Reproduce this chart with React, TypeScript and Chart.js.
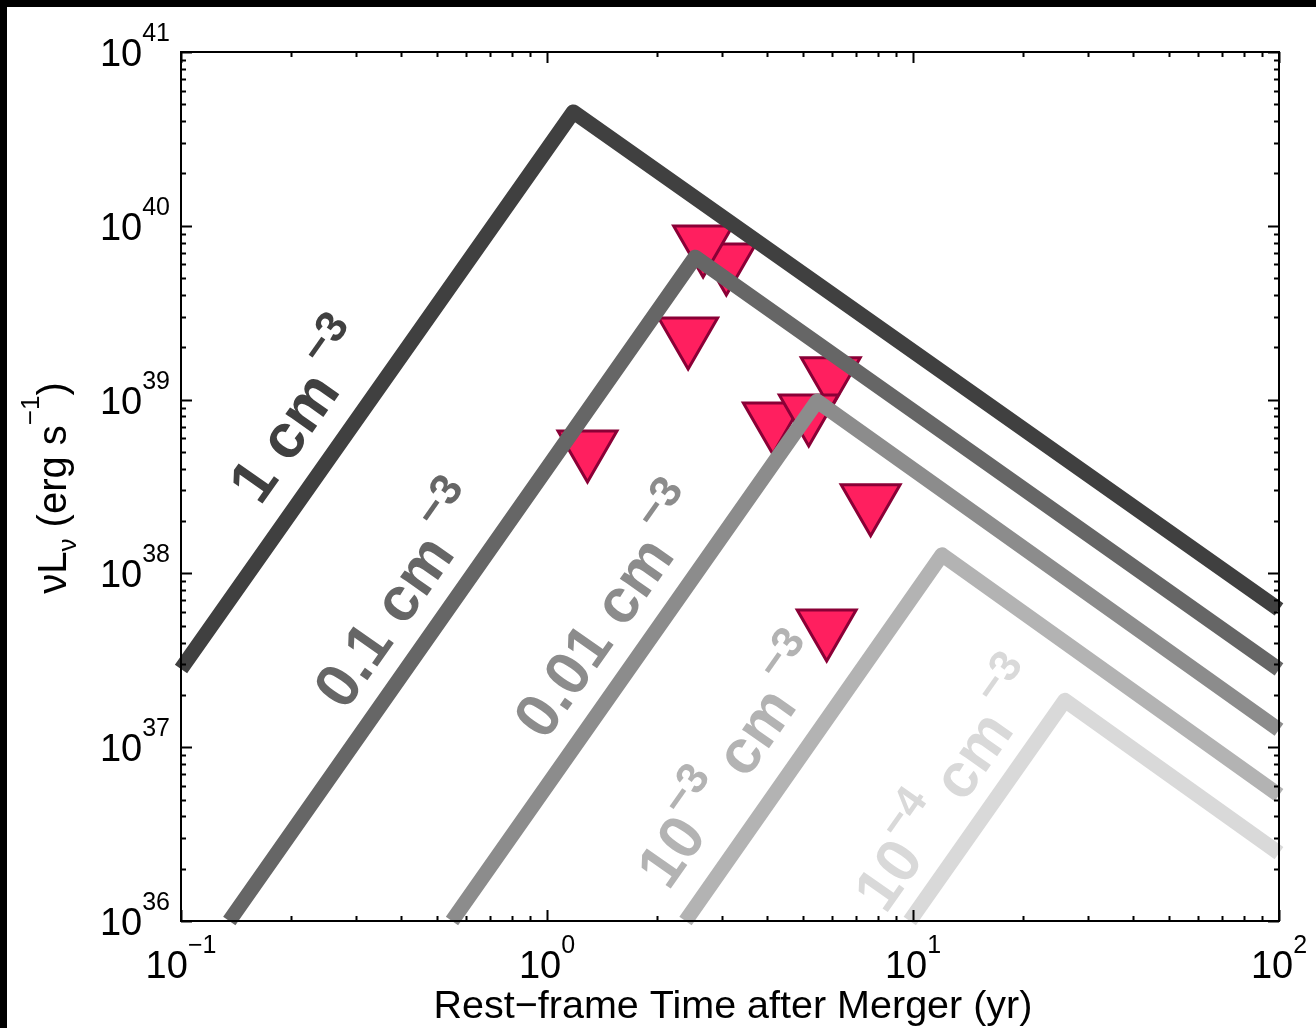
import React, { useEffect, useRef } from "react";
import { Chart, registerables } from "chart.js";

Chart.register(...registerables);

// ---------- data ----------
const DENSITY_NAMES = ["1 cm^-3", "0.1 cm^-3", "0.01 cm^-3", "10^-3 cm^-3", "10^-4 cm^-3"];

const T_N1 = [0.1, 1.18, 100];
const L_N1 = [2.82e37, 4.52e40, 6.2e37];
const T_N01 = [0.1355, 2.54, 100];
const L_N01 = [1e36, 6.6e39, 2.8e37];
const T_N001 = [0.55, 5.47, 100];
const L_N001 = [1e36, 9.8e38, 1.26e37];
const T_N1E3 = [2.39, 12.0, 100];
const L_N1E3 = [1e36, 1.28e38, 5.3e36];
const T_N1E4 = [9.8, 26, 100];
const L_N1E4 = [1e36, 1.86e37, 2.46e36];

// upper limits (drawn in this order)
const LIMIT_T = [3.09, 2.67, 2.43, 1.29, 5.96, 4.14, 5.19, 7.66, 5.81];
const LIMIT_L = [6.27e39, 7.95e39, 2.35e39, 5.27e38, 1.39e39, 7.63e38, 8.49e38, 2.58e38, 4.92e37];

// label anchors (data coordinates, centre of the rotated label)
const LABEL_T = [0.211, 0.395, 1.48, 3.2, 12.55];
const LABEL_L = [8.5e38, 7.41e37, 6.0e37, 8.2e36, 6.0e36];

const X_TICK_EXP = [-1, 0, 1, 2];
const Y_TICK_EXP = [36, 37, 38, 39, 40, 41];

const X_TITLE = "Rest\u2212frame Time after Merger (yr)";

// ---------- styles ----------
const LINE_COLORS = ["#404040", "#666666", "#8c8c8c", "#b3b3b3", "#d9d9d9"];
const FONT = '"Liberation Sans", Arial, Helvetica, sans-serif';

type Part = { t: string; sup?: boolean; sub?: boolean };

function parseLabel(s: string): Part[] {
  const parts: Part[] = [];
  const re = /\^(-?\d+)/g;
  let last = 0;
  let m: RegExpExecArray | null;
  while ((m = re.exec(s))) {
    if (m.index > last) parts.push({ t: s.slice(last, m.index) });
    parts.push({ t: m[1].replace("-", "\u2212"), sup: true });
    last = m.index + m[0].length;
  }
  if (last < s.length) parts.push({ t: s.slice(last) });
  return parts;
}

function needsGap(parts: Part[], i: number) {
  const p = parts[i];
  if (!p.sup || i === 0) return false;
  const prev = parts[i - 1];
  if (prev.sup || prev.sub) return false;
  return /[A-Za-z]$/.test(prev.t);
}

function drawParts(
  ctx: CanvasRenderingContext2D,
  parts: Part[],
  x0: number,
  baseY: number,
  size: number,
  subSize: number,
  supRaise: number,
  subDrop: number,
  weight: string,
  gap: number
) {
  let x = x0;
  parts.forEach((p, i) => {
    const small = p.sup || p.sub;
    ctx.font = `${weight} ${small ? subSize : size}px ${FONT}`;
    const y = p.sup ? baseY - supRaise : p.sub ? baseY + subDrop : baseY;
    if (needsGap(parts, i)) x += gap;
    ctx.fillText(p.t, x, y);
    x += ctx.measureText(p.t).width;
  });
  return x;
}

function measureParts(ctx: CanvasRenderingContext2D, parts: Part[], size: number, subSize: number, weight: string, gap: number) {
  let w = 0;
  parts.forEach((p, i) => {
    const small = p.sup || p.sub;
    ctx.font = `${weight} ${small ? subSize : size}px ${FONT}`;
    if (needsGap(parts, i)) w += gap;
    w += ctx.measureText(p.t).width;
  });
  return w;
}

const SERIES_T = [T_N1, T_N01, T_N001, T_N1E3, T_N1E4];
const SERIES_L = [L_N1, L_N01, L_N001, L_N1E3, L_N1E4];

const decorPlugin = {
  id: "decor",
  beforeDraw(chart: any) {
    const ctx = chart.ctx as CanvasRenderingContext2D;
    ctx.save();
    ctx.fillStyle = "#ffffff";
    ctx.fillRect(0, 0, chart.width, chart.height);
    ctx.fillStyle = "#000000";
    ctx.fillRect(0, 0, chart.width, 7);
    ctx.fillRect(0, 0, 7, chart.height);
    ctx.restore();
  },
  beforeDatasetsDraw(chart: any) {
    const ctx = chart.ctx as CanvasRenderingContext2D;
    const xs = chart.scales.x;
    const ys = chart.scales.y;
    ctx.save();
    ctx.textBaseline = "alphabetic";
    ctx.textAlign = "left";
    DENSITY_NAMES.forEach((name, i) => {
      const t = SERIES_T[i];
      const l = SERIES_L[i];
      const ax = xs.getPixelForValue(t[0]);
      const ay = ys.getPixelForValue(l[0]);
      const bx = xs.getPixelForValue(t[1]);
      const by = ys.getPixelForValue(l[1]);
      const ang = Math.atan2(by - ay, bx - ax);
      const cx = xs.getPixelForValue(LABEL_T[i]);
      const cy = ys.getPixelForValue(LABEL_L[i]);
      const parts = parseLabel(name);
      const size = 62;
      const sub = 44;
      const gap = 9;
      ctx.save();
      ctx.translate(cx, cy);
      ctx.rotate(ang);
      ctx.fillStyle = LINE_COLORS[i];
      const w = measureParts(ctx, parts, size, sub, "bold", gap);
      drawParts(ctx, parts, -w / 2, size * 0.36, size, sub, size * 0.5, 0, "bold", gap);
      ctx.restore();
    });
    ctx.restore();
  },
  afterDatasetsDraw(chart: any) {
    const ctx = chart.ctx as CanvasRenderingContext2D;
    const xs = chart.scales.x;
    const ys = chart.scales.y;
    const { left, right, top, bottom } = chart.chartArea;
    ctx.save();
    ctx.strokeStyle = "#000000";
    ctx.lineWidth = 2;
    ctx.lineCap = "butt";
    const majorLen = 11;
    const minorLen = 5;
    ctx.beginPath();
    const xMax = Math.pow(10, X_TICK_EXP[X_TICK_EXP.length - 1]) * 1.0001;
    for (let e = X_TICK_EXP[0]; e <= X_TICK_EXP[X_TICK_EXP.length - 1]; e++) {
      for (let k = 1; k <= 9; k++) {
        const v = k * Math.pow(10, e);
        if (v > xMax) continue;
        const px = Math.round(xs.getPixelForValue(v)) + 0.5;
        const len = k === 1 ? majorLen : minorLen;
        ctx.moveTo(px, bottom);
        ctx.lineTo(px, bottom - len);
        ctx.moveTo(px, top);
        ctx.lineTo(px, top + len);
      }
    }
    const yMax = Math.pow(10, Y_TICK_EXP[Y_TICK_EXP.length - 1]) * 1.0001;
    for (let e = Y_TICK_EXP[0]; e <= Y_TICK_EXP[Y_TICK_EXP.length - 1]; e++) {
      for (let k = 1; k <= 9; k++) {
        const v = k * Math.pow(10, e);
        if (v > yMax) continue;
        const py = Math.round(ys.getPixelForValue(v)) + 0.5;
        const len = k === 1 ? majorLen : minorLen;
        ctx.moveTo(left, py);
        ctx.lineTo(left + len, py);
        ctx.moveTo(right, py);
        ctx.lineTo(right - len, py);
      }
    }
    ctx.stroke();
    ctx.lineWidth = 2;
    ctx.strokeRect(left, top, right - left, bottom - top);

    // tick labels
    ctx.fillStyle = "#000000";
    ctx.textBaseline = "alphabetic";
    ctx.textAlign = "left";
    const mainSize = 38;
    const expSize = 25;
    X_TICK_EXP.forEach((e) => {
      const parts: Part[] = [{ t: "10" }, { t: String(e).replace("-", "\u2212"), sup: true }];
      const w = measureParts(ctx, parts, mainSize, expSize, "normal", 0);
      const px = xs.getPixelForValue(Math.pow(10, e));
      drawParts(ctx, parts, px - w / 2, bottom + 57, mainSize, expSize, 25, 0, "normal", 0);
    });
    Y_TICK_EXP.forEach((e) => {
      const parts: Part[] = [{ t: "10" }, { t: String(e).replace("-", "\u2212"), sup: true }];
      const w = measureParts(ctx, parts, mainSize, expSize, "normal", 0);
      const py = ys.getPixelForValue(Math.pow(10, e));
      drawParts(ctx, parts, left - 11 - w, py + 14, mainSize, expSize, 25, 0, "normal", 0);
    });

    // x title
    ctx.font = `normal 39.5px ${FONT}`;
    ctx.textAlign = "center";
    ctx.fillText(X_TITLE, 733, 1018);

    // y title
    const yParts: Part[] = [
      { t: "\u03bd" },
      { t: "L" },
      { t: "\u03bd", sub: true },
      { t: " (erg s" },
      { t: "\u22121", sup: true },
      { t: ")" },
    ];
    ctx.textAlign = "left";
    ctx.save();
    ctx.translate(66, 488);
    ctx.rotate(-Math.PI / 2);
    const yw = measureParts(ctx, yParts, 40, 26, "normal", 0);
    drawParts(ctx, yParts, -yw / 2, 0, 40, 26, 27, 10, "normal", 0);
    ctx.restore();
    ctx.restore();
  },
};

export default function App() {
  const ref = useRef<HTMLCanvasElement | null>(null);
  useEffect(() => {
    if (!ref.current) return;
    const lineSets = SERIES_T.map((ts, i) => ({
      label: DENSITY_NAMES[i],
      data: ts.map((t, j) => ({ x: t, y: SERIES_L[i][j] })),
      showLine: true,
      borderColor: LINE_COLORS[i],
      backgroundColor: LINE_COLORS[i],
      borderWidth: 15,
      borderCapStyle: "butt" as const,
      borderJoinStyle: "round" as const,
      pointRadius: 0,
      tension: 0,
      clip: false as any,
    }));
    const limitSet = {
      label: "upper limits",
      data: LIMIT_T.map((t, j) => ({ x: t, y: LIMIT_L[j] })),
      showLine: false,
      pointStyle: "triangle" as const,
      rotation: 180,
      pointRadius: 34,
      pointBackgroundColor: "#ff1f5f",
      pointBorderColor: "#8a0036",
      pointBorderWidth: 3,
      clip: false as any,
    };
    const chart = new Chart(ref.current, {
      type: "scatter",
      data: { datasets: [...lineSets, limitSet] as any },
      options: {
        animation: false,
        responsive: false,
        maintainAspectRatio: false,
        events: [],
        layout: { padding: { left: 181, top: 52, right: 33, bottom: 107 } },
        scales: {
          x: { type: "logarithmic", min: 0.1, max: 100, display: false },
          y: { type: "logarithmic", min: 1e36, max: 1e41, display: false },
        },
        plugins: { legend: { display: false }, tooltip: { enabled: false } },
      },
      plugins: [decorPlugin],
    });
    return () => chart.destroy();
  }, []);
  return (
    <canvas
      ref={ref}
      width={1316}
      height={1028}
      style={{ position: "absolute", left: 0, top: 0, display: "block", width: 1316, height: 1028 }}
    />
  );
}
